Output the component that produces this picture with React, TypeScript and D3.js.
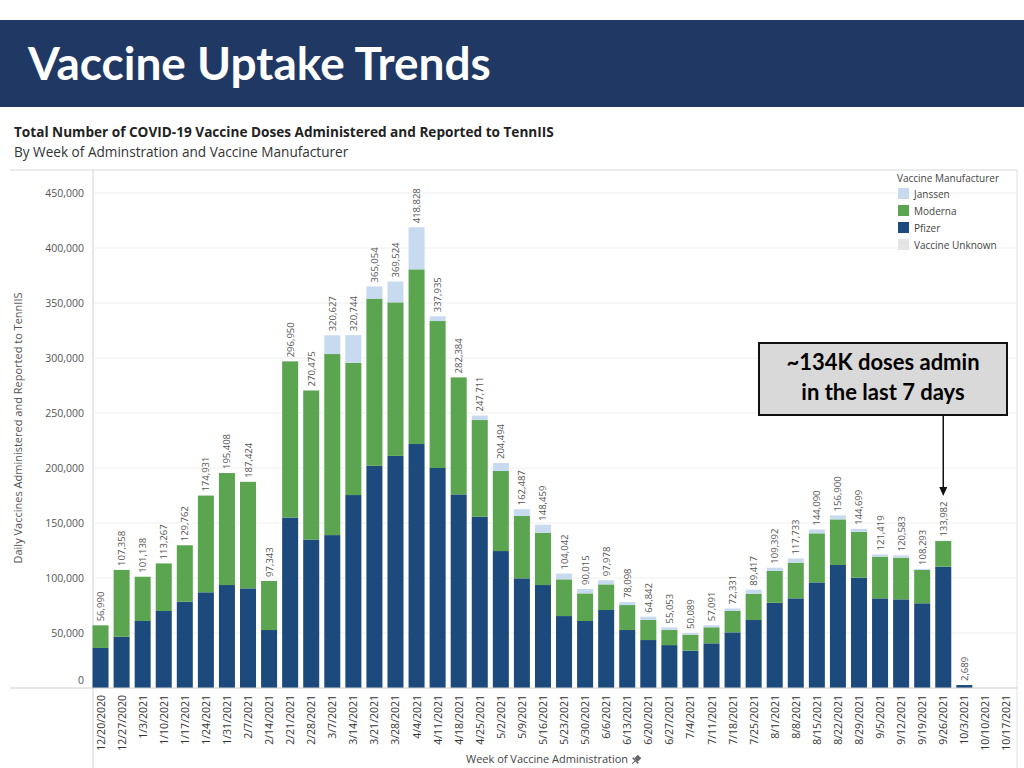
import React from "react";
import * as d3 from "d3";

const weeks = ["12/20/2020","12/27/2020","1/3/2021","1/10/2021","1/17/2021","1/24/2021","1/31/2021","2/7/2021","2/14/2021","2/21/2021","2/28/2021","3/7/2021","3/14/2021","3/21/2021","3/28/2021","4/4/2021","4/11/2021","4/18/2021","4/25/2021","5/2/2021","5/9/2021","5/16/2021","5/23/2021","5/30/2021","6/6/2021","6/13/2021","6/20/2021","6/27/2021","7/4/2021","7/11/2021","7/18/2021","7/25/2021","8/1/2021","8/8/2021","8/15/2021","8/22/2021","8/29/2021","9/5/2021","9/12/2021","9/19/2021","9/26/2021","10/3/2021","10/10/2021","10/17/2021"];

const pfizer = [36400,46600,60900,70000,78500,87000,93600,90600,52700,155000,135000,139000,175400,202000,211000,221800,200000,176000,155700,124500,99700,93600,65400,60900,70900,52700,43600,39000,33900,40600,50600,61800,77500,81500,96000,111800,100300,81500,80600,77000,110300,2689,0,0];
const moderna = [20590,60758,40238,43267,51262,87931,101808,96824,44643,141950,135475,164600,120300,152000,139600,158800,133600,106384,87900,72800,56900,47600,33400,25100,23300,22700,18200,13700,14600,14600,19400,23900,29100,32400,44600,41500,41700,37900,37900,30300,23300,0,0,0];
const janssen = [0,0,0,0,0,0,0,0,0,0,0,17027,25044,11054,18924,38228,4335,0,4111,7194,5887,7259,5242,4015,3778,2698,3042,2353,1589,1891,2331,3717,2792,3833,3490,3600,2699,2019,2083,993,382,0,0,0];
const totals = [56990,107358,101138,113267,129762,174931,195408,187424,97343,296950,270475,320627,320744,365054,369524,418828,337935,282384,247711,204494,162487,148459,104042,90015,97978,78098,64842,55053,50089,57091,72331,89417,109392,117733,144090,156900,144699,121419,120583,108293,133982,2689,null,null];
const yTicks = [0,50000,100000,150000,200000,250000,300000,350000,400000,450000];
const legendItems = ["Janssen","Moderna","Pfizer","Vaccine Unknown"];

const COLORS: Record<string,string> = {
  Pfizer: "#1d4a7c",
  Moderna: "#5ba551",
  Janssen: "#c8daf0",
  "Vaccine Unknown": "#e4e4e4",
};

const FONT = "'Open Sans', 'Noto Sans', sans-serif";
const HEAD = "Lato, 'Open Sans', sans-serif";

export default function App() {
  const W = 1024, H = 768;
  const x = d3.scaleBand<string>().domain(weeks).range([90, 1017]).paddingInner(0.24).paddingOuter(0.12);
  const y = d3.scaleLinear().domain([0, 450000]).range([688, 193]);
  const fmt = d3.format(",");

  const rows = weeks.map((w, i) => ({ w, Pfizer: pfizer[i], Moderna: moderna[i], Janssen: janssen[i] }));
  const stack = d3.stack<any>().keys(["Pfizer", "Moderna", "Janssen"])(rows);

  const arrowX = (x("9/26/2021") as number) + x.bandwidth() / 2;

  return (
    <svg width={W} height={H} style={{ position: "absolute", left: 0, top: 0, background: "#fff" }}>
      <rect x={0} y={0} width={W} height={H} fill="#fff" />
      {/* header */}
      <rect x={0} y={20} width={W} height={87} fill="#203864" />
      <text x={28} y={80} fill="#fff" fontFamily={HEAD} fontWeight={700} fontSize={46}>Vaccine Uptake Trends</text>

      {/* chart titles */}
      <text x={14} y={137} fontFamily={FONT} fontWeight={700} fontSize={13.6} fill="#222">Total Number of COVID-19 Vaccine Doses Administered and Reported to TennIIS</text>
      <text x={14} y={157} fontFamily={FONT} fontSize={13.6} fill="#333">By Week of Adminstration and Vaccine Manufacturer</text>

      {/* frame */}
      <line x1={10} x2={1017} y1={170} y2={170} stroke="#d8d8d8" />
      <line x1={93} x2={93} y1={170} y2={768} stroke="#d0d0d0" />
      <line x1={1017} x2={1017} y1={170} y2={768} stroke="#e0e0e0" />

      {/* gridlines + y ticks */}
      {yTicks.map((t) => (
        <g key={t}>
          {t > 0 && <line x1={93} x2={1017} y1={y(t)} y2={y(t)} stroke="#f0f0f0" />}
          <text x={84} y={t === 0 ? y(t) - 4 : y(t) + 4} textAnchor="end" fontFamily={FONT} fontSize={10.5} fill="#555">{fmt(t)}</text>
        </g>
      ))}
      <text transform={`translate(22,428) rotate(-90)`} textAnchor="middle" fontFamily={FONT} fontSize={11} fill="#555">Daily Vaccines Administered and Reported to TennIIS</text>

      {/* bars */}
      {stack.map((s) => (
        <g key={s.key} fill={COLORS[s.key]}>
          {s.map((d, i) => {
            const h = y(d[0]) - y(d[1]);
            if (h <= 0) return null;
            return <rect key={i} x={x(weeks[i])} y={y(d[1])} width={x.bandwidth()} height={Math.max(h, 0)} />;
          })}
        </g>
      ))}
      <line x1={10} x2={1017} y1={688} y2={688} stroke="#cfcfcf" />

      {/* value labels */}
      {totals.map((t, i) => t == null ? null : (
        <text key={i} transform={`translate(${(x(weeks[i]) as number) + x.bandwidth() / 2 + 3.5},${y(t) - 4}) rotate(-90)`} fontFamily={FONT} fontSize={9.5} fill="#555">{fmt(t)}</text>
      ))}

      {/* x labels */}
      {weeks.map((w) => (
        <text key={w} transform={`translate(${(x(w) as number) + x.bandwidth() / 2 + 4},${695}) rotate(-90)`} textAnchor="end" fontFamily={FONT} fontSize={10.5} fill="#333">{w}</text>
      ))}
      <text x={466} y={763} fontFamily={FONT} fontSize={11} fill="#444">Week of Vaccine Administration</text>
      <g transform="translate(636,760) rotate(45)" fill="#666">
        <rect x={-2.5} y={-5} width={5} height={5} />
        <rect x={-4} y={0} width={8} height={1.5} />
        <rect x={-0.5} y={1.5} width={1} height={4} />
      </g>

      {/* legend */}
      <text x={897} y={182} fontFamily={FONT} fontSize={10} fill="#444">Vaccine Manufacturer</text>
      {legendItems.map((k, i) => (
        <g key={k}>
          <rect x={898} y={188 + i * 17} width={11} height={11} fill={COLORS[k]} />
          <text x={914} y={198 + i * 17} fontFamily={FONT} fontSize={10} fill="#444">{k}</text>
        </g>
      ))}

      {/* annotation */}
      <rect x={759} y={343} width={248} height={72} fill="#d9d9d9" stroke="#111" strokeWidth={2} />
      <text x={883} y={370} textAnchor="middle" fontFamily={HEAD} fontWeight={700} fontSize={22} fill="#000">~134K doses admin</text>
      <text x={883} y={400} textAnchor="middle" fontFamily={HEAD} fontWeight={700} fontSize={22} fill="#000">in the last 7 days</text>
      <line x1={arrowX} x2={arrowX} y1={415} y2={490} stroke="#111" strokeWidth={1.5} />
      <path d={`M${arrowX - 4},${487} L${arrowX + 4},${487} L${arrowX},${496} Z`} fill="#111" />
    </svg>
  );
}
